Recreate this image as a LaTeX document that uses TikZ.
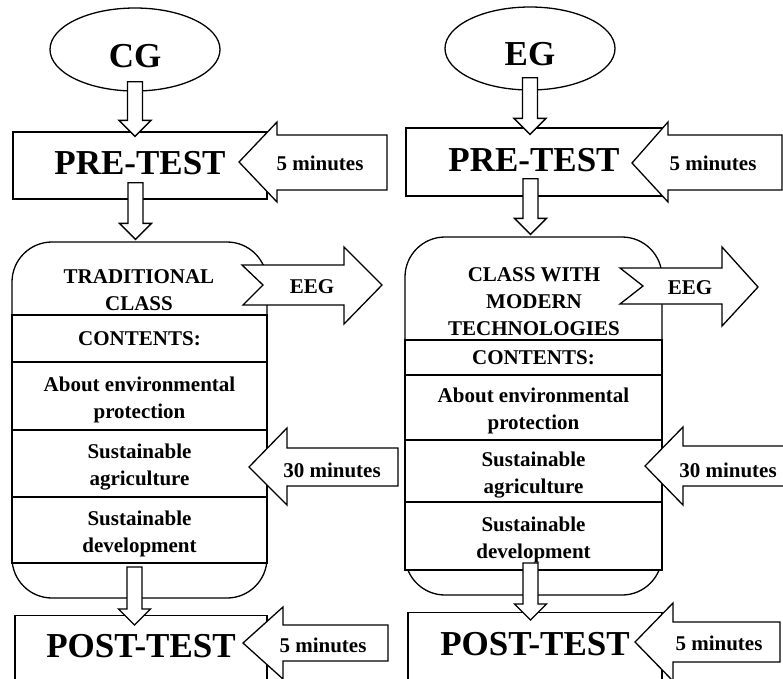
\documentclass[tikz,border=0pt]{standalone}
\usepackage{fontspec}
\setmainfont{Liberation Serif}
\usetikzlibrary{positioning,calc,shapes.geometric}
\tikzset{
  bigtxt/.style   = {font=\fontsize{35}{40}\selectfont\bfseries},
  smtxt/.style    = {font=\fontsize{21}{27}\selectfont\bfseries, align=center, inner sep=0pt},
  grp/.style      = {draw, ellipse, line width=1.3pt, bigtxt, inner sep=0pt, text depth=0pt},
  testbox/.style  = {draw, fill=white, line width=1.3pt, bigtxt, inner sep=0pt},
  classbox/.style = {draw, fill=white, line width=1.3pt, rounded corners=40pt},
  row/.style      = {draw, fill=white, line width=1.8pt, smtxt, outer sep=0pt},
  row2/.style     = {row, text height=49pt},
  blk/.style      = {draw, fill=white, line width=1.3pt, line join=miter},
  dnarr/.style    = {blk, to path={let \p1=(\tikztostart), \p2=(\tikztotarget) in
      (\x1-7.5pt,\y1) -- (\x1+7.5pt,\y1) -- (\x1+7.5pt,\y2+16pt) -- (\x1+16pt,\y2+16pt)
      -- (\x1,\y2) -- (\x1-16pt,\y2+16pt) -- (\x1-7.5pt,\y2+16pt) -- cycle}}
}

\begin{document}
\begin{tikzpicture}[x=1pt, y=-1pt]
  \clip (0,0) rectangle (783,678);

  % control group
  \node[grp, minimum width=170pt, minimum height=83pt, text height=35pt] (cg) at (135,49.5) {CG};
  \node[testbox, minimum width=254pt, minimum height=67pt, text height=19pt] (pre1) at (140,165.5) {PRE-TEST};
  \node[classbox, minimum width=255pt, minimum height=356pt] (cls1) at (139.5,420) {};
  \node[smtxt] (title1) at (139,290.5) {TRADITIONAL\\CLASS};
  \node[row, minimum width=255pt, minimum height=47pt] (r11) at (139.5,338.5) {CONTENTS:};
  \node[row2, minimum width=255pt, minimum height=68pt, below=0pt of r11] (r12) {About environmental\\protection};
  \node[row2, minimum width=255pt, minimum height=67pt, below=0pt of r12] (r13) {Sustainable\\agriculture};
  \node[row2, minimum width=255pt, minimum height=66pt, below=0pt of r13] (r14) {Sustainable\\development};
  \node[testbox, anchor=north, minimum width=252pt, text height=42pt, text depth=40pt] (post1) at (141,615) {POST-TEST};

  % experimental group
  \node[grp, minimum width=170pt, minimum height=83pt, text height=33pt] (eg) at (530,48.5) {EG};
  \node[testbox, minimum width=256pt, minimum height=68pt, text height=20pt] (pre2) at (534,162) {PRE-TEST};
  \node[classbox, minimum width=257pt, minimum height=358pt] (cls2) at (533.5,416) {};
  \node[smtxt] (title2) at (534,302) {CLASS WITH\\MODERN\\TECHNOLOGIES};
  \node[row, minimum width=257pt, minimum height=35pt] (r21) at (533.5,357.5) {CONTENTS:};
  \node[row2, minimum width=257pt, minimum height=65pt, below=0pt of r21] (r22) {About environmental\\protection};
  \node[row2, minimum width=257pt, minimum height=62pt, below=0pt of r22] (r23) {Sustainable\\agriculture};
  \node[row2, minimum width=257pt, minimum height=68pt, below=0pt of r23] (r24) {Sustainable\\development};
  \node[testbox, anchor=north, minimum width=254pt, text height=43pt, text depth=40pt] (post2) at (535,612) {POST-TEST};

  % flow arrows
  \draw[dnarr] ([yshift=10pt]cg.south) to ([yshift=-5pt]pre1.north);
  \draw[dnarr] ([xshift=-4.5pt,yshift=17pt]pre1.south) to ([yshift=2pt]cls1.north);
  \draw[dnarr] ([xshift=-5pt,yshift=-4pt]r14.south) to ([yshift=-10pt]post1.north);
  \draw[dnarr] ([yshift=13pt]eg.south) to ([yshift=-7pt]pre2.north);
  \draw[dnarr] ([xshift=-3.5pt,yshift=18pt]pre2.south) to ([yshift=2pt]cls2.north);
  \draw[dnarr] ([xshift=-3pt,yshift=7pt]r24.south) to ([yshift=-8pt]post2.north);

  % side arrows, control group
  \draw[blk] (239,162) -- (277,122) -- (277,135) -- (387,135) -- (387,190) -- (277,190) -- (277,202) -- cycle;
  \node[smtxt] (min1a) at (320,163) {5 minutes};
  \draw[blk] (242,265) -- (344,265) -- (344,247) -- (382,285) -- (344,324) -- (344,305) -- (243,305) -- (263,285) -- cycle;
  \node[smtxt] (eeg1) at (312,287) {EEG};
  \draw[blk] (249,467) -- (287,428) -- (287,448) -- (398,448) -- (398,486) -- (287,486) -- (287,505) -- cycle;
  \node[smtxt] (min1b) at (332,470) {30 minutes};
  \draw[blk] (243,643) -- (283,607) -- (283,625) -- (388,625) -- (388,661) -- (283,661) -- (283,679) -- cycle;
  \node[smtxt] (min1c) at (323,645) {5 minutes};

  % side arrows, experimental group
  \draw[blk] (632,163) -- (668,122) -- (668,135) -- (782,135) -- (782,190) -- (668,190) -- (668,202) -- cycle;
  \node[smtxt] (min2a) at (713,163) {5 minutes};
  \draw[blk] (620,268) -- (722,268) -- (722,247) -- (758,287) -- (722,326) -- (722,304) -- (620,304) -- (643,286) -- cycle;
  \node[smtxt] (eeg2) at (690,288) {EEG};
  \draw[blk] (645,466) -- (683,427) -- (683,446) -- (800,446) -- (800,486) -- (683,486) -- (683,505) -- cycle;
  \node[smtxt] (min2b) at (728,470) {30 minutes};
  \draw[blk] (635,642) -- (673,603) -- (673,622) -- (780,622) -- (780,662) -- (673,662) -- (673,681) -- cycle;
  \node[smtxt] (min2c) at (719,643) {5 minutes};
\end{tikzpicture}
\end{document}
